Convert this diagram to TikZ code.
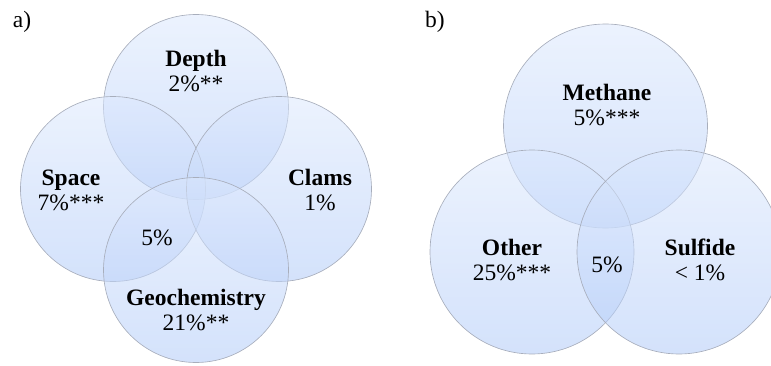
\documentclass[tikz,border=0pt]{standalone}
\usepackage{fontspec}
\setmainfont{Liberation Serif}
\usetikzlibrary{positioning,shapes,backgrounds}
\definecolor{vennedge}{RGB}{168,174,188}
\definecolor{venntop}{RGB}{220,232,253}
\definecolor{vennbot}{RGB}{176,202,248}

\begin{document}
\begin{tikzpicture}
[x=1pt,y=1pt,
venn/.style={shape=circle,draw=vennedge,line width=.65pt,top color=venntop,bottom color=vennbot,fill opacity=.55,draw opacity=1},
vsmall/.style={venn,minimum size=185pt},
vbig/.style={venn,minimum size=204pt},
lbl/.style={align=center,font=\fontsize{23.5}{25}\selectfont},
tag/.style={font=\fontsize{23.5}{25}\selectfont}]
\useasboundingbox (0,0) rectangle (771,365);
%%
% a) four sets
%%
\node[vsmall] (depth) at (196,258) {};
\node[vsmall] (space) at (113,176) {};
\node[vsmall] (clams) at (279,176) {};
\node[vsmall] (geo) at (196,95) {};
%
\node[tag] (a) at (22,343) {a)};
\node[lbl] (depthtxt) at (196,294) {\textbf{Depth}\\2\%**};
\node[lbl] (spacetxt) at (71,175) {\textbf{Space}\\7\%***};
\node[lbl] (clamstxt) at (320,175) {\textbf{Clams}\\1\%};
\node[lbl] (geotxt) at (196,55) {\textbf{Geochemistry}\\21\%**};
\node[lbl] (acore) at (157,127) {5\%};
%%
% b) three sets
%%
\node[vbig] (meth) at (605.5,239) {};
\node[vbig] (other) at (532,113) {};
\node[vbig] (sulf) at (679,113) {};
%
\node[tag] (b) at (435,343) {b)};
\node[lbl] (methtxt) at (607,260) {\textbf{Methane}\\5\%***};
\node[lbl] (othertxt) at (512,105) {\textbf{Other}\\25\%***};
\node[lbl] (sulftxt) at (700,105) {\textbf{Sulfide}\\< 1\%};
\node[lbl] (bcore) at (607,100) {5\%};
\end{tikzpicture}
\end{document}
